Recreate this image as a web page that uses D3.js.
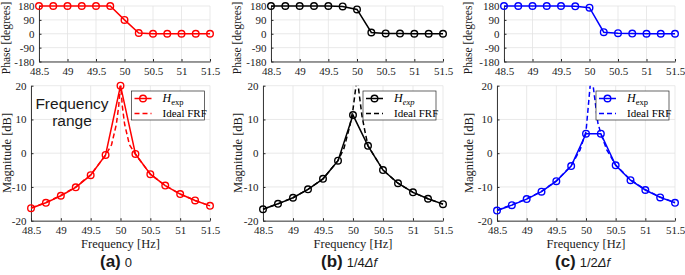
<!doctype html>
<html>
<head>
<meta charset="utf-8">
<script src="https://d3js.org/d3.v7.min.js"></script>
<style>
body { margin: 0; background: #fff; }
svg { display: block; }
</style>
</head>
<body>
<svg width="685" height="275"></svg>
<script>
// measured frequencies (Hz)
var freq = [48.5, 48.75, 49, 49.25, 49.5, 49.75, 50, 50.25, 50.5, 50.75, 51, 51.25, 51.5];

// phase of H_exp (degrees)
var phaseA = [180, 180, 180, 180, 180, 180, 90, 5, 0, 0, 0, 0, 0];
var phaseB = [180, 180, 180, 180, 180, 177, 158, 8, 2, 1, 0, 0, 0];
var phaseC = [180, 180, 180, 180, 180, 178, 169, 10, 4, 1, 0, 0, 0];

// magnitude of H_exp (dB)
var magA = [-16.3, -14.7, -12.6, -10.1, -6.5, -0.5, 20, -0.2, -6.2, -9.6, -12.1, -14.0, -15.6];
var magB = [-16.6, -15.0, -13.2, -10.7, -7.6, -2.2, 11.3, 2.2, -5.0, -8.9, -11.6, -13.5, -15.1];
var magC = [-17.0, -15.4, -13.6, -11.4, -8.3, -3.8, 5.8, 5.8, -3.6, -8.0, -10.9, -13.1, -14.7];

// ideal FRF (dashed)
var idealFreqA = [48.5, 48.75, 49, 49.25, 49.5, 49.75, 49.85, 49.93, 49.97, 50, 50.03, 50.07, 50.15, 50.25, 50.5, 50.75, 51, 51.25, 51.5];
var idealMagA  = [-16.2, -14.6, -12.5, -10.0, -6.4, -0.6, 2.5, 8.5, 14, 21, 14, 8.5, 2.5, -0.3, -6.2, -9.6, -12.1, -14.0, -15.6];
var idealFreqB = [48.5, 48.75, 49, 49.25, 49.5, 49.75, 49.85, 49.95, 50, 50.05, 50.07, 50.1, 50.15, 50.2, 50.25, 50.5, 50.75, 51, 51.25, 51.5];
var idealMagB  = [-16.6, -15.0, -13.2, -10.7, -7.6, -2.2, 1.5, 8.3, 13, 20, 23, 18, 11, 6.4, 2.2, -5.0, -8.9, -11.6, -13.5, -15.1];
var idealFreqC = [48.5, 48.75, 49, 49.25, 49.5, 49.75, 49.9, 50, 50.07, 50.1, 50.12, 50.2, 50.25, 50.35, 50.5, 50.75, 51, 51.25, 51.5];
var idealMagC  = [-16.9, -15.3, -13.5, -11.3, -8.2, -3.7, 1.0, 6.4, 20, 24, 20, 9, 5.8, 1.0, -3.5, -7.9, -10.8, -13.0, -14.6];

var xTicks = [48.5, 49, 49.5, 50, 50.5, 51, 51.5];
var phaseTicks = [-180, -90, 0, 90, 180];
var magTicks = [-20, -10, 0, 10, 20];

var serif = "'Liberation Serif', 'Times New Roman', serif";
var sans = "'Liberation Sans', Arial, sans-serif";

var panels = [
  { id: "a", color: "#ff0000", phase: phaseA, mag: magA, iF: idealFreqA, iM: idealMagA,
    top: [39, 210], bot: [31, 210], ylabX: 11, leg: 131.5, cap: "(a)", capX: 100, note: "0" },
  { id: "b", color: "#000000", phase: phaseB, mag: magB, iF: idealFreqB, iM: idealMagB,
    top: [271, 443], bot: [263, 443], ylabX: 242, leg: 363, cap: "(b)", capX: 321, note: "1/4" },
  { id: "c", color: "#0000ff", phase: phaseC, mag: magC, iF: idealFreqC, iM: idealMagC,
    top: [504, 675], bot: [497, 675], ylabX: 473, leg: 596, cap: "(c)", capX: 555, note: "1/2" }
];

var svg = d3.select("svg");

function drawAxes(g, x, y, yTicks, padX) {
  var r = y.range();
  // grid
  g.append("g").selectAll("line.gx").data(xTicks).enter().append("line")
    .attr("x1", function (d) { return x(d); }).attr("x2", function (d) { return x(d); })
    .attr("y1", r[0]).attr("y2", r[1])
    .style("stroke", "#e3e3e3").style("stroke-width", 0.8);
  g.append("g").selectAll("line.gy").data(yTicks).enter().append("line")
    .attr("x1", x.range()[0]).attr("x2", x.range()[1])
    .attr("y1", function (d) { return y(d); }).attr("y2", function (d) { return y(d); })
    .style("stroke", "#e3e3e3").style("stroke-width", 0.8);

  var ax = g.append("g")
    .attr("transform", "translate(0," + r[0] + ")")
    .call(d3.axisBottom(x).tickValues(xTicks).tickSizeInner(-2.5).tickSizeOuter(0).tickPadding(5.5)
      .tickFormat(function (d) { return String(d); }));
  var ay = g.append("g")
    .attr("transform", "translate(" + x.range()[0] + ",0)")
    .call(d3.axisLeft(y).tickValues(yTicks).tickSizeInner(-2.5).tickSizeOuter(0).tickPadding(padX)
      .tickFormat(function (d) { return String(d); }));
  [ax, ay].forEach(function (a) {
    a.select(".domain").style("stroke", "#262626").style("stroke-width", 0.9);
    a.selectAll(".tick line").style("stroke", "#262626");
    a.selectAll("text").style("font-family", serif).style("font-size", "11px").style("fill", "#1a1a1a");
  });
}

panels.forEach(function (p) {
  var g = svg.append("g");

  // ---- phase plot
  var xP = d3.scaleLinear().domain([48.5, 51.5]).range(p.top);
  var yP = d3.scaleLinear().domain([-180, 180]).range([61.5, 6]);
  drawAxes(g, xP, yP, phaseTicks, 4.5);

  var lineP = d3.line().x(function (d, i) { return xP(freq[i]); }).y(function (d) { return yP(d); });
  g.append("path").datum(p.phase).attr("d", lineP)
    .style("fill", "none").style("stroke", p.color).style("stroke-width", 1.5);
  g.append("g").selectAll("circle").data(p.phase).enter().append("circle")
    .attr("cx", function (d, i) { return xP(freq[i]); })
    .attr("cy", function (d) { return yP(d); })
    .attr("r", 3.3)
    .style("fill", "none").style("stroke", p.color).style("stroke-width", 1.4);

  g.append("text")
    .attr("transform", "translate(" + (p.ylabX - 1) + "," + 38 + ")rotate(-90)")
    .attr("text-anchor", "middle")
    .style("font-family", serif).style("font-size", "11.5px").style("fill", "#1a1a1a")
    .text("Phase [degrees]");

  // ---- magnitude plot
  var xM = d3.scaleLinear().domain([48.5, 51.5]).range(p.bot);
  var yM = d3.scaleLinear().domain([-20, 20]).range([220.7, 85.7]);
  drawAxes(g, xM, yM, magTicks, 4.5);

  var clipId = "clip" + p.id;
  g.append("clipPath").attr("id", clipId).append("rect")
    .attr("x", p.bot[0]).attr("y", 85.7).attr("width", p.bot[1] - p.bot[0]).attr("height", 135);

  var lineI = d3.line().x(function (d, i) { return xM(p.iF[i]); }).y(function (d) { return yM(d); });
  g.append("path").datum(p.iM).attr("d", lineI).attr("clip-path", "url(#" + clipId + ")")
    .style("fill", "none").style("stroke", p.color).style("stroke-width", 1.5)
    .style("stroke-dasharray", "5,3");

  var lineM = d3.line().x(function (d, i) { return xM(freq[i]); }).y(function (d) { return yM(d); });
  g.append("path").datum(p.mag).attr("d", lineM)
    .style("fill", "none").style("stroke", p.color).style("stroke-width", 1.5);
  g.append("g").selectAll("circle").data(p.mag).enter().append("circle")
    .attr("cx", function (d, i) { return xM(freq[i]); })
    .attr("cy", function (d) { return yM(d); })
    .attr("r", 3.3)
    .style("fill", "none").style("stroke", p.color).style("stroke-width", 1.4);

  g.append("text")
    .attr("transform", "translate(" + p.ylabX + "," + 153 + ")rotate(-90)")
    .attr("text-anchor", "middle")
    .style("font-family", serif).style("font-size", "12.5px").style("fill", "#1a1a1a")
    .text("Magnitude [dB]");

  g.append("text")
    .attr("x", (p.bot[0] + p.bot[1]) / 2).attr("y", 247.5)
    .attr("text-anchor", "middle")
    .style("font-family", serif).style("font-size", "12.5px").style("fill", "#1a1a1a")
    .text("Frequency [Hz]");

  // ---- legend
  var lg = g.append("g").attr("transform", "translate(" + p.leg + ",91)");
  lg.append("rect").attr("width", 73).attr("height", 29)
    .style("fill", "#fff").style("stroke", "#262626").style("stroke-width", 0.7);
  lg.append("line").attr("x1", 3).attr("x2", 20).attr("y1", 7.5).attr("y2", 7.5)
    .style("stroke", p.color).style("stroke-width", 1.5);
  lg.append("circle").attr("cx", 11.5).attr("cy", 7.5).attr("r", 3.3)
    .style("fill", "none").style("stroke", p.color).style("stroke-width", 1.4);
  lg.append("line").attr("x1", 3).attr("x2", 20).attr("y1", 22.5).attr("y2", 22.5)
    .style("stroke", p.color).style("stroke-width", 1.5).style("stroke-dasharray", "5,3");
  var t1 = lg.append("text").attr("x", 31).attr("y", 11)
    .style("font-family", serif).style("font-size", "12px").style("fill", "#000");
  t1.append("tspan").style("font-style", "italic").text("H");
  t1.append("tspan").attr("dy", 3).style("font-size", "8.5px")
    .style("font-style", p.id === "b" ? "italic" : "normal").text("exp");
  lg.append("text").attr("x", 31).attr("y", 26)
    .style("font-family", serif).style("font-size", "11px").style("fill", "#000")
    .text("Ideal FRF");

  // ---- caption
  var cap = svg.append("text").attr("x", p.capX).attr("y", 267)
    .style("font-family", sans).style("fill", "#1a1a1a");
  cap.append("tspan").style("font-weight", "bold").style("font-size", "17px").text(p.cap);
  cap.append("tspan").attr("dx", 4).style("font-size", "13px").text(p.note);
  if (p.id !== "a") {
    cap.append("tspan").style("font-size", "13px").style("font-style", "italic").text("\u0394f");
  }
});

// annotation in panel (a)
svg.append("text").attr("x", 72).attr("y", 108.5).attr("text-anchor", "middle")
  .style("font-family", sans).style("font-size", "15.5px").style("fill", "#1a1a1a")
  .text("Frequency");
svg.append("text").attr("x", 72).attr("y", 125.5).attr("text-anchor", "middle")
  .style("font-family", sans).style("font-size", "15.5px").style("fill", "#1a1a1a")
  .text("range");
</script>
</body>
</html>
